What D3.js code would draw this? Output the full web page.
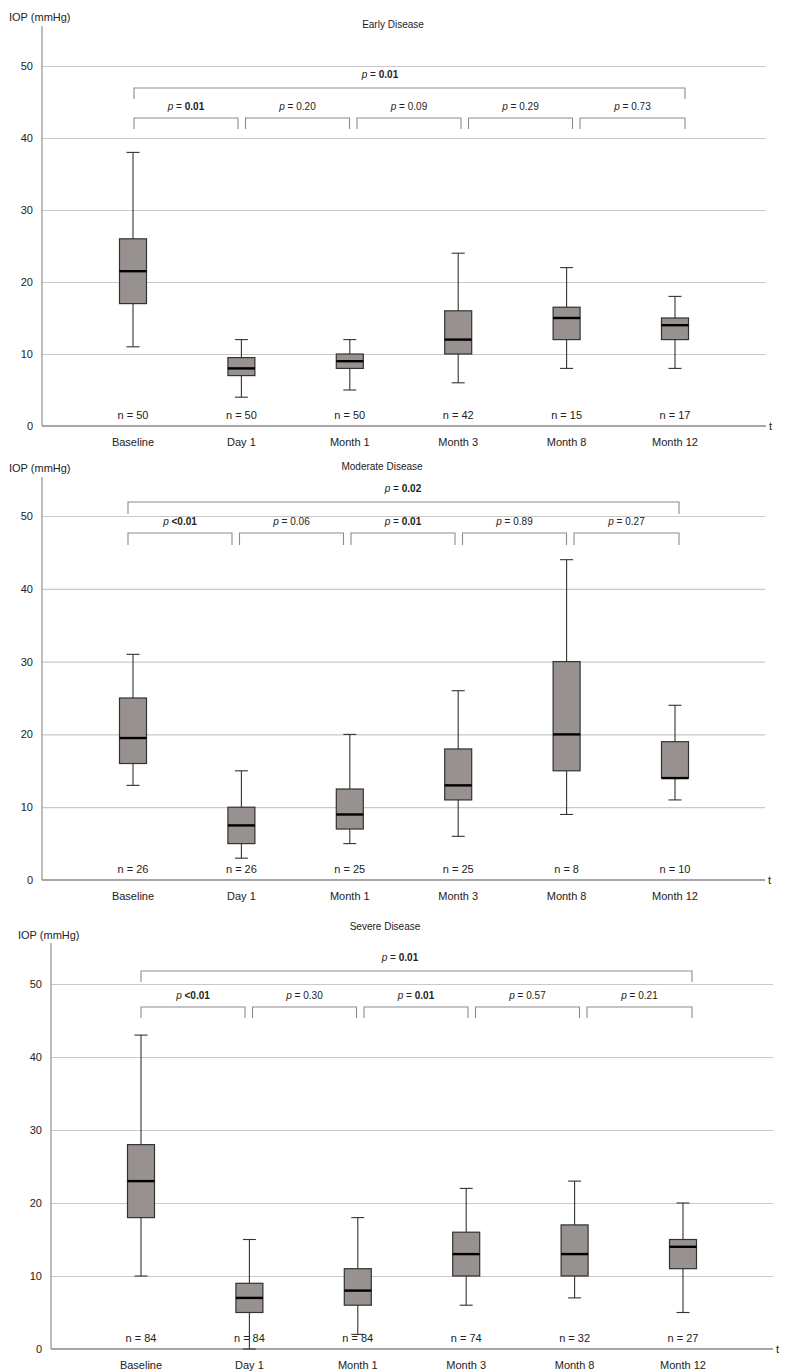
<!DOCTYPE html>
<html>
<head>
<meta charset="utf-8">
<title>IOP by disease stage</title>
<script src="https://cdn.jsdelivr.net/npm/d3@7"></script>
<style>
    body { margin: 0; background: #fff; }
    svg text { font-family: "Liberation Sans", Arial, sans-serif; fill: #222; }
</style>
</head>
<body>
<div id="chart"></div>
<script>
// ---------------- data ----------------
var categories = ['Baseline', 'Day 1', 'Month 1', 'Month 3', 'Month 8', 'Month 12'];
var yTicks = [0, 10, 20, 30, 40, 50];

// Early disease
var earlyLow    = [11, 4, 5, 6, 8, 8];
var earlyQ1     = [17, 7, 8, 10, 12, 12];
var earlyMedian = [21.5, 8, 9, 12, 15, 14];
var earlyQ3     = [26, 9.5, 10, 16, 16.5, 15];
var earlyHigh   = [38, 12, 12, 24, 22, 18];
var earlyN      = [50, 50, 50, 42, 15, 17];
var earlyP      = ['= 0.01', '= 0.20', '= 0.09', '= 0.29', '= 0.73'];
var earlySig    = [true, false, false, false, false];
var earlyOverall = '= 0.01';

// Moderate disease
var modLow    = [13, 3, 5, 6, 9, 11];
var modQ1     = [16, 5, 7, 11, 15, 14];
var modMedian = [19.5, 7.5, 9, 13, 20, 14];
var modQ3     = [25, 10, 12.5, 18, 30, 19];
var modHigh   = [31, 15, 20, 26, 44, 24];
var modN      = [26, 26, 25, 25, 8, 10];
var modP      = ['<0.01', '= 0.06', '= 0.01', '= 0.89', '= 0.27'];
var modSig    = [true, false, true, false, false];
var modOverall = '= 0.02';

// Severe disease
var sevLow    = [10, 0, 2, 6, 7, 5];
var sevQ1     = [18, 5, 6, 10, 10, 11];
var sevMedian = [23, 7, 8, 13, 13, 14];
var sevQ3     = [28, 9, 11, 16, 17, 15];
var sevHigh   = [43, 15, 18, 22, 23, 20];
var sevN      = [84, 84, 84, 74, 32, 27];
var sevP      = ['<0.01', '= 0.30', '= 0.01', '= 0.57', '= 0.21'];
var sevSig    = [true, false, true, false, false];
var sevOverall = '= 0.01';

// ---------------- svg ----------------
var W = 786, H = 1371;
var svg = d3.select('#chart').append('svg')
    .attr('width', W)
    .attr('height', H);

function rows(low, q1, med, q3, high, n) {
    return categories.map(function (c, i) {
        return {cat: c, low: low[i], q1: q1[i], med: med[i], q3: q3[i], high: high[i], n: n[i]};
    });
}

var panels = [
    {title: 'Early Disease', titleX: 393, titleY: 28, labelY: 21,
     left: 42, right: 766, y0: 426, y50: 66, axisTop: 26, first: 133, last: 675,
     data: rows(earlyLow, earlyQ1, earlyMedian, earlyQ3, earlyHigh, earlyN),
     p: earlyP, sig: earlySig, overall: earlyOverall, overallX: 380,
     topBr: 88, smallBr: 118, brDrop: 11, brStart: 134},
    {title: 'Moderate Disease', titleX: 382, titleY: 470, labelY: 472,
     left: 42, right: 765, y0: 880, y50: 516, axisTop: 477, first: 133, last: 675,
     data: rows(modLow, modQ1, modMedian, modQ3, modHigh, modN),
     p: modP, sig: modSig, overall: modOverall, overallX: 403,
     topBr: 502, smallBr: 533, brDrop: 12, brStart: 128},
    {title: 'Severe Disease', titleX: 385, titleY: 930, labelY: 939,
     left: 51, right: 773, y0: 1349, y50: 984, axisTop: 943, first: 141, last: 683,
     data: rows(sevLow, sevQ1, sevMedian, sevQ3, sevHigh, sevN),
     p: sevP, sig: sevSig, overall: sevOverall, overallX: 400,
     topBr: 971, smallBr: 1007, brDrop: 11, brStart: 141}
];

function pLabel(g, x, y, txt, bold) {
    var t = g.append('text')
        .attr('x', x).attr('y', y)
        .attr('text-anchor', 'middle')
        .style('font-size', '10px');
    t.append('tspan').style('font-style', 'italic').text('p');
    if (txt.charAt(0) === '<') {
        t.append('tspan').text(' ');
        t.append('tspan').style('font-weight', bold ? 'bold' : 'normal').text(txt);
    } else {
        t.append('tspan').text(' = ');
        t.append('tspan').style('font-weight', bold ? 'bold' : 'normal').text(txt.replace('= ', ''));
    }
}

panels.forEach(function (P) {
    var g = svg.append('g');

    var y = d3.scaleLinear().domain([0, 50]).range([P.y0, P.y50]);
    var x = d3.scalePoint().domain(categories).range([P.first, P.last]);
    // comparison brackets sit on their own slightly wider spacing
    var bx = d3.scaleLinear().domain([0, 5]).range([P.brStart, P.brStart + 557.5]);
    var brW = 104;

    // gridlines
    g.append('g')
        .attr('transform', 'translate(' + P.left + ',0)')
        .call(d3.axisLeft(y).tickValues(yTicks.slice(1)).tickSize(-(P.right - P.left)).tickFormat(''))
        .call(function (s) {
            s.select('.domain').remove();
            s.selectAll('line').attr('stroke', '#c9c9c9').attr('stroke-width', 1.2);
        });

    // tick labels
    g.append('g')
        .attr('transform', 'translate(' + P.left + ',0)')
        .call(d3.axisLeft(y).tickValues(yTicks).tickSize(0).tickPadding(9))
        .call(function (s) {
            s.select('.domain').remove();
            s.selectAll('text').style('font-size', '11px').attr('fill', '#222')
                .style('font-family', '"Liberation Sans", Arial, sans-serif');
        });

    // y axis line
    g.append('line')
        .attr('x1', P.left).attr('x2', P.left)
        .attr('y1', P.axisTop).attr('y2', P.y0)
        .attr('stroke', '#9a9a9a').attr('stroke-width', 1.3);

    // x axis line
    g.append('line')
        .attr('x1', P.left).attr('x2', P.right)
        .attr('y1', P.y0).attr('y2', P.y0)
        .attr('stroke', '#8a8a8a').attr('stroke-width', 1.3);

    g.append('text').attr('x', P.right + 3).attr('y', P.y0 + 4)
        .style('font-size', '11px').text('t');

    g.append('text').attr('x', P.left - 33).attr('y', P.labelY)
        .style('font-size', '11px').text('IOP (mmHg)');

    g.append('text').attr('x', P.titleX).attr('y', P.titleY)
        .attr('text-anchor', 'middle')
        .style('font-size', '10px').text(P.title);

    // brackets
    var brColor = '#8c8c8c';
    var xFirst = bx(0), xLast = bx(4) + brW + 1;
    g.append('path')
        .attr('d', 'M' + xFirst + ',' + (P.topBr + P.brDrop) + 'V' + P.topBr + 'H' + xLast + 'V' + (P.topBr + P.brDrop))
        .attr('fill', 'none').attr('stroke', brColor).attr('stroke-width', 1.1);
    pLabel(g, P.overallX, P.topBr - 10, P.overall, true);

    P.p.forEach(function (txt, i) {
        var a = bx(i);
        var b = i === P.p.length - 1 ? xLast : a + brW;
        g.append('path')
            .attr('d', 'M' + a + ',' + (P.smallBr + P.brDrop) + 'V' + P.smallBr + 'H' + b + 'V' + (P.smallBr + P.brDrop))
            .attr('fill', 'none').attr('stroke', brColor).attr('stroke-width', 1.1);
        pLabel(g, (a + b) / 2, P.smallBr - 8, txt, P.sig[i]);
    });

    // box plots
    var bw = 27, cap = 13;
    var box = g.selectAll('.box').data(P.data).enter().append('g').attr('class', 'box');

    box.append('line')
        .attr('x1', function (d) { return x(d.cat); })
        .attr('x2', function (d) { return x(d.cat); })
        .attr('y1', function (d) { return y(d.low); })
        .attr('y2', function (d) { return y(d.high); })
        .attr('stroke', '#333').attr('stroke-width', 1.1);

    ['low', 'high'].forEach(function (k) {
        box.append('line')
            .attr('x1', function (d) { return x(d.cat) - cap / 2; })
            .attr('x2', function (d) { return x(d.cat) + cap / 2; })
            .attr('y1', function (d) { return y(d[k]); })
            .attr('y2', function (d) { return y(d[k]); })
            .attr('stroke', '#333').attr('stroke-width', 1.1);
    });

    box.append('rect')
        .attr('x', function (d) { return x(d.cat) - bw / 2; })
        .attr('width', bw)
        .attr('y', function (d) { return y(d.q3); })
        .attr('height', function (d) { return y(d.q1) - y(d.q3); })
        .attr('fill', '#97928f').attr('stroke', '#333').attr('stroke-width', 1.2);

    box.append('line')
        .attr('x1', function (d) { return x(d.cat) - bw / 2; })
        .attr('x2', function (d) { return x(d.cat) + bw / 2; })
        .attr('y1', function (d) { return y(d.med); })
        .attr('y2', function (d) { return y(d.med); })
        .attr('stroke', '#000').attr('stroke-width', 2.4);

    // n labels
    box.append('text')
        .attr('x', function (d) { return x(d.cat); })
        .attr('y', P.y0 - 7)
        .attr('text-anchor', 'middle')
        .style('font-size', '11px')
        .text(function (d) { return 'n = ' + d.n; });

    // category labels
    g.selectAll('.cat').data(categories).enter().append('text')
        .attr('x', function (d) { return x(d); })
        .attr('y', P.y0 + 20)
        .attr('text-anchor', 'middle')
        .style('font-size', '11px')
        .text(function (d) { return d; });
});
</script>
</body>
</html>
